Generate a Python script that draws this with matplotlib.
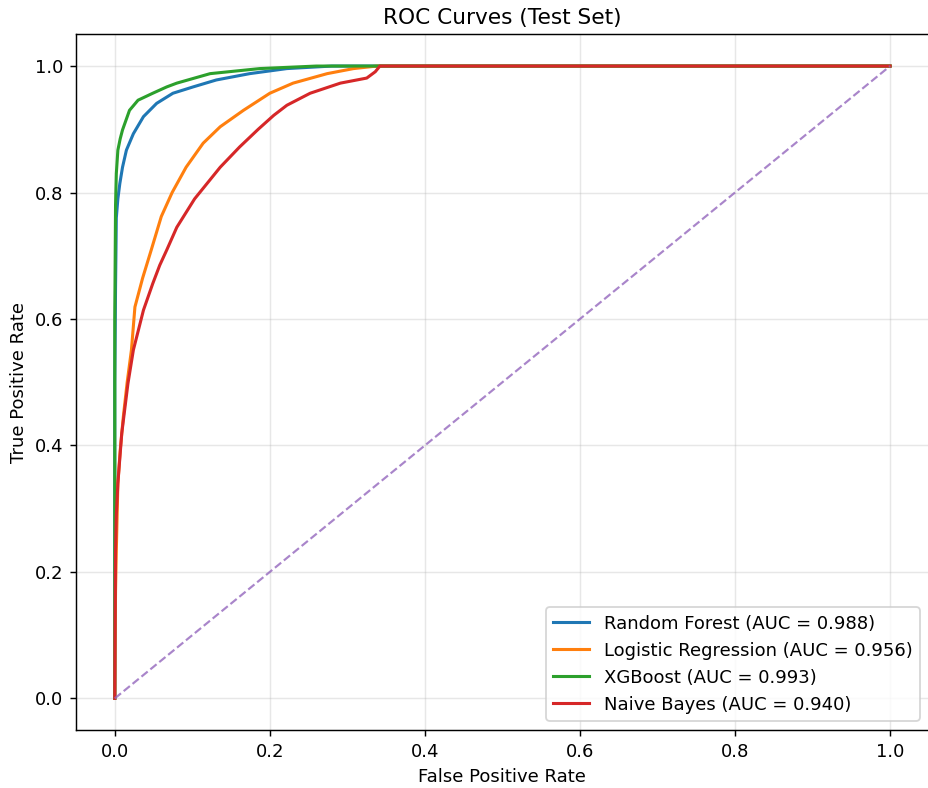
import matplotlib
matplotlib.use("Agg")
from matplotlib import pyplot as plt

# ROC points
rf_fpr = [0, 0, 0.001, 0.002, 0.004, 0.0065, 0.01, 0.015, 0.024, 0.037, 0.054, 0.075,
          0.101, 0.131, 0.174, 0.222, 0.28, 1.0]
rf_tpr = [0, 0.5, 0.65, 0.76, 0.79, 0.814, 0.84, 0.867, 0.893, 0.92, 0.941, 0.957,
          0.967, 0.978, 0.988, 0.996, 1.0, 1.0]

lr_fpr = [0, 0.0005, 0.001, 0.002, 0.004, 0.007, 0.011, 0.016, 0.0215, 0.026, 0.036, 0.047,
          0.060, 0.074, 0.092, 0.114, 0.136, 0.166, 0.200, 0.230, 0.274, 0.308, 0.338, 1.0]
lr_tpr = [0, 0.1, 0.17, 0.234, 0.34, 0.392, 0.445, 0.50, 0.551, 0.619, 0.665, 0.709,
          0.762, 0.80, 0.84, 0.878, 0.904, 0.930, 0.957, 0.973, 0.988, 0.996, 1.0, 1.0]

xgb_fpr = [0, 0, 0.001, 0.002, 0.004, 0.007, 0.01, 0.019, 0.03, 0.049, 0.067, 0.08,
           0.123, 0.187, 0.26, 1.0]
xgb_tpr = [0, 0.6, 0.78, 0.83, 0.867, 0.885, 0.899, 0.930, 0.946, 0.957, 0.967, 0.973,
           0.988, 0.996, 1.0, 1.0]

nb_fpr = [0, 0.0005, 0.001, 0.002, 0.004, 0.009, 0.017, 0.024, 0.037, 0.049, 0.058, 0.067,
          0.08, 0.103, 0.136, 0.161, 0.185, 0.205, 0.222, 0.252, 0.291, 0.325, 0.336, 0.342, 1.0]
nb_tpr = [0, 0.13, 0.234, 0.29, 0.34, 0.419, 0.498, 0.551, 0.614, 0.656, 0.685, 0.709,
          0.745, 0.79, 0.84, 0.872, 0.90, 0.922, 0.938, 0.957, 0.973, 0.981, 0.991, 1.0, 1.0]

models = ["Random Forest", "Logistic Regression", "XGBoost", "Naive Bayes"]
aucs = [0.988, 0.956, 0.993, 0.940]
curves = [(rf_fpr, rf_tpr), (lr_fpr, lr_tpr), (xgb_fpr, xgb_tpr), (nb_fpr, nb_tpr)]

fig = plt.figure(figsize=(928 / 130, 788 / 130), dpi=130)
ax = fig.add_axes([0.0819, 0.0736, 0.919, 0.8827])

for name, auc, (fpr, tpr) in zip(models, aucs, curves):
    ax.plot(fpr, tpr, lw=1.7, label=f"{name} (AUC = {auc:.3f})")
ax.plot([0, 1], [0, 1], "--", color="C4", alpha=0.8, lw=1.2)

ax.set_xlabel("False Positive Rate")
ax.set_ylabel("True Positive Rate")
ax.set_title("ROC Curves (Test Set)")
ax.legend(loc="lower right")
ax.grid(alpha=0.3)
# the reference is cut just before the right spine
ax.spines["right"].set_visible(False)

fig.savefig("out.png", dpi=130)
